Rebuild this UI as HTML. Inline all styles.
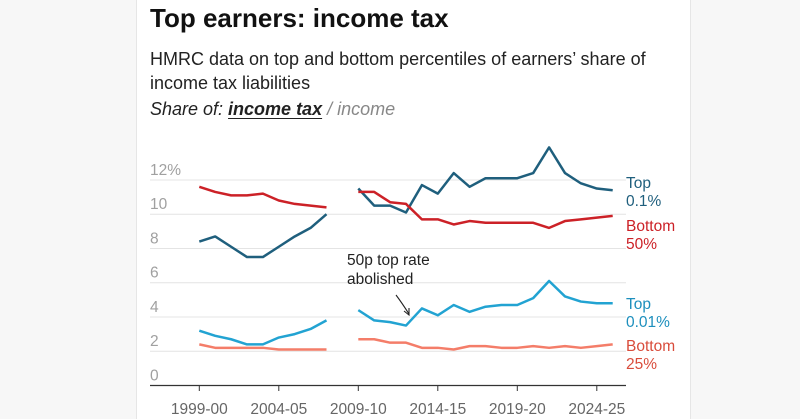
<!DOCTYPE html>
<html><head><meta charset="utf-8"><style>
body{margin:0;width:800px;height:419px;overflow:hidden;background:#fff;font-family:"Liberation Sans",sans-serif}
.side{position:absolute;top:0;height:419px;background:#f7f7f7}
</style></head><body>
<div class="side" style="left:0;width:136px;border-right:1px solid #e6e6e6"></div>
<div class="side" style="left:690px;width:110px;border-left:1px solid #e6e6e6"></div>
<div style="position:absolute;left:150px;top:3px;font-size:26px;font-weight:bold;color:#111">Top earners: income tax</div>
<div style="position:absolute;left:150px;top:47px;font-size:18px;line-height:24px;color:#222;width:530px">HMRC data on top and bottom percentiles of earners’ share of income tax liabilities</div>
<div style="position:absolute;left:150px;top:99px;font-size:18px;font-style:italic;color:#222">Share of: <span style="font-weight:bold;text-decoration:underline;text-underline-offset:3px">income tax</span> <span style="color:#888">/</span> <span style="color:#888">income</span></div>
<svg id="c" width="800" height="419" style="position:absolute;left:0;top:0"></svg>
<script>
const yearsA=[1999,2000,2001,2002,2003,2004,2005,2006,2007];
const yearsB=[2009,2010,2011,2012,2013,2014,2015,2016,2017,2018,2019,2020,2021,2022,2023,2024,2025];
const top01A=[8.4,8.7,8.1,7.5,7.5,8.1,8.7,9.2,10.0];
const top01B=[11.5,10.5,10.5,10.1,11.7,11.2,12.4,11.6,12.1,12.1,12.1,12.4,13.9,12.4,11.8,11.5,11.4];
const bot50A=[11.6,11.3,11.1,11.1,11.2,10.8,10.6,10.5,10.4];
const bot50B=[11.3,11.3,10.7,10.6,9.7,9.7,9.4,9.6,9.5,9.5,9.5,9.5,9.2,9.6,9.7,9.8,9.9];
const top001A=[3.2,2.9,2.7,2.4,2.4,2.8,3.0,3.3,3.8];
const top001B=[4.4,3.8,3.7,3.5,4.5,4.1,4.7,4.3,4.6,4.7,4.7,5.1,6.1,5.2,4.9,4.8,4.8];
const bot25A=[2.4,2.2,2.2,2.2,2.2,2.1,2.1,2.1,2.1];
const bot25B=[2.7,2.7,2.5,2.5,2.2,2.2,2.1,2.3,2.3,2.2,2.2,2.3,2.2,2.3,2.2,2.3,2.4];
const yTicks=[0,2,4,6,8,10,12];
const xTicks=[1999,2004,2009,2014,2019,2024];
const xTickLabels=["1999-00","2004-05","2009-10","2014-15","2019-20","2024-25"];
const NS="http://www.w3.org/2000/svg",svg=document.getElementById('c');
const x=y=>199.3+(y-1999)*15.9, yv=v=>385.5-v*17.13;
function mk(t,a){const e=document.createElementNS(NS,t);for(const k in a)e.setAttribute(k,a[k]);svg.appendChild(e);return e;}
yTicks.forEach(v=>{
 if(v>0){const g=mk('line',{x1:150,x2:626,y1:yv(v),y2:yv(v),stroke:'#e4e4e4','stroke-width':1});
 
 }
 const t=mk('text',{x:150,y:yv(v)-5,'font-size':15.5,fill:'#a0a0a0'});t.textContent=v===12?'12%':v;
 
 
});
const ax=mk('line',{x1:150,x2:626,y1:385.5,y2:385.5,stroke:'#333','stroke-width':1.3});


xTicks.forEach((yr,i)=>{
 const tk=mk('line',{x1:x(yr),x2:x(yr),y1:385.5,y2:391,stroke:'#333'});
 
 
 const t=mk('text',{x:x(yr),y:414,'font-size':15.5,fill:'#666','text-anchor':'middle'});t.textContent=xTickLabels[i];
 
 
});
function line(ys,vs,c,n){const p=mk('polyline',{points:ys.map((y,i)=>x(y)+','+yv(vs[i])).join(' '),fill:'none',stroke:c,'stroke-width':2.5,'stroke-linejoin':'round'});
 
 }
const S=[[top01A,top01B,'#1f5f7d','top-0-1-line'],[bot50A,bot50B,'#cc2127','bottom-50-line'],[top001A,top001B,'#22a3d2','top-0-01-line'],[bot25A,bot25B,'#f47d69','bottom-25-line']];
S.forEach(s=>{line(yearsA,s[0],s[2],s[3]);line(yearsB,s[1],s[2],s[3]);});
const labs=[['Top','0.1%','#1f5f7d',188],['Bottom','50%','#cc2127',231],['Top','0.01%','#1d8fbd',309],['Bottom','25%','#d94c3b',351]];
labs.forEach(l=>{const t=mk('text',{x:626,y:l[3],'font-size':15.5,fill:l[2]});
 t.innerHTML='<tspan x="626">'+l[0]+'</tspan><tspan x="626" dy="18">'+l[1]+'</tspan>';
 
 });
const an=mk('text',{x:347,y:265,'font-size':15.5,fill:'#222'});
an.innerHTML='<tspan x="347">50p top rate</tspan><tspan x="347" dy="19">abolished</tspan>';


const ar=mk('path',{d:'M396,295 Q402,303 409,314 M404,311 L409,315 L409,308',fill:'none',stroke:'#222','stroke-width':1.1});


</script>
</body></html>
